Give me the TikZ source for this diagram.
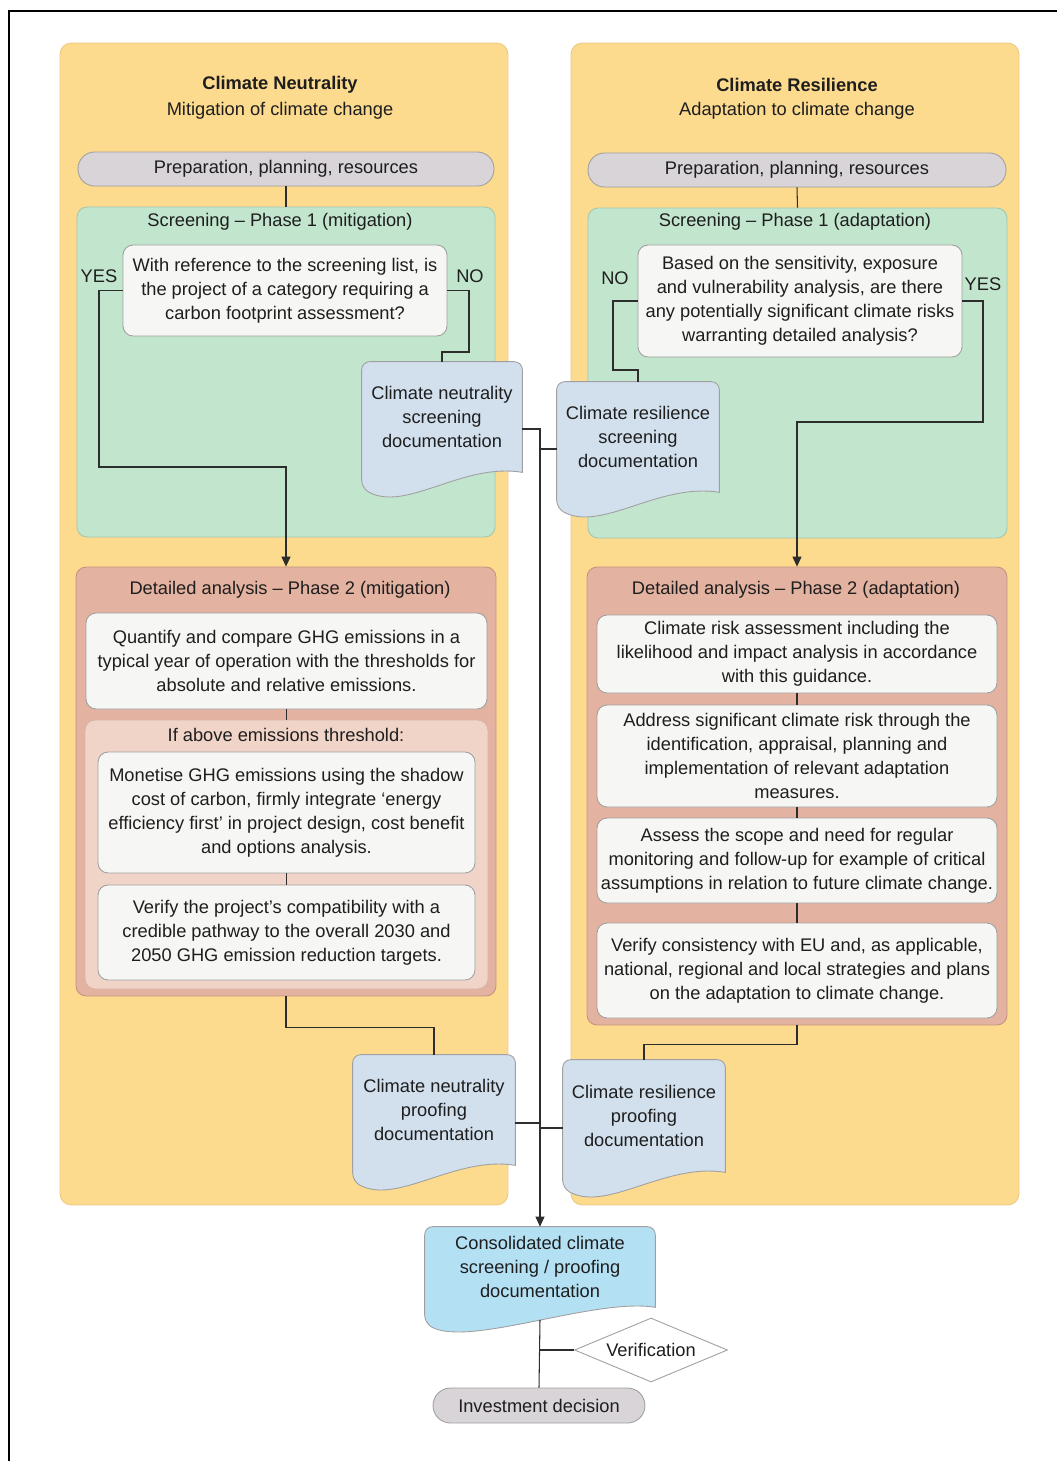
\documentclass[tikz,border=0pt]{standalone}
\usepackage{fontspec}
\setmainfont{Liberation Sans}
\usepackage{tikz}
\usetikzlibrary{arrows.meta,calc,shapes.geometric}

\definecolor{panel}{RGB}{252,218,142}
\definecolor{panelline}{RGB}{238,202,128}
\definecolor{screen}{RGB}{194,229,205}
\definecolor{screenline}{RGB}{160,200,176}
\definecolor{detail}{RGB}{228,178,160}
\definecolor{detailline}{RGB}{196,146,128}
\definecolor{above}{RGB}{241,212,200}
\definecolor{boxfill}{RGB}{246,246,244}
\definecolor{boxline}{RGB}{160,160,160}
\definecolor{prep}{RGB}{216,212,216}
\definecolor{docfill}{RGB}{210,224,238}
\definecolor{consfill}{RGB}{180,224,244}
\definecolor{linecol}{RGB}{45,45,45}
\definecolor{txt}{RGB}{30,30,30}

\pgfdeclarelayer{back}
\pgfdeclarelayer{mid}
\pgfsetlayers{back,mid,main}

\tikzset{
  every node/.style={font=\fontsize{10.4}{13.6}\selectfont, text=txt, inner sep=0pt},
  bigpanel/.style={draw=panelline, fill=panel, rounded corners=0.22cm, line width=0.5pt},
  screenpanel/.style={draw=screenline, fill=screen, rounded corners=0.2cm, line width=0.5pt},
  detailpanel/.style={draw=detailline, fill=detail, rounded corners=0.2cm, line width=0.5pt},
  abovepanel/.style={draw=detailline!70, fill=above, rounded corners=0.2cm, line width=0.5pt},
  prepbox/.style={draw=boxline, fill=prep, rounded corners=0.33cm, line width=0.5pt},
  textbox/.style={draw=boxline, fill=boxfill, rounded corners=0.2cm, line width=0.5pt, align=center},
  docbox/.style={align=center},
  docline/.style={draw=boxline, line width=0.5pt},
  link/.style={draw=linecol, line width=0.6pt},
  arrowlink/.style={link, -{Triangle[length=0.2cm,width=0.18cm]}},
}

% document symbol behind a named node
\newcommand{\docshape}[2]{%
  \begin{pgfonlayer}{mid}
    \filldraw[docline, fill=#2]
      (#1.south east) [rounded corners=0.16cm] -- (#1.north east) -- (#1.north west)
      -- ($(#1.south west)+(0,16)$) [sharp corners]
      .. controls +(45,24) and +(-60,-10) .. (#1.south east) -- cycle;
  \end{pgfonlayer}}

\begin{document}
\begin{tikzpicture}[x=0.02cm, y=-0.02cm]

  \useasboundingbox (0,0) rectangle (1057,1461);

  % Frame
  \draw[line width=1pt] (9,1461) -- (9,11) -- (1057,11);

  % Panels
  \begin{pgfonlayer}{back}
    \node[bigpanel, minimum width=8.96cm, minimum height=23.24cm] (colL) at (284,624) {};
    \node[bigpanel, minimum width=8.96cm, minimum height=23.24cm] (colR) at (795,624) {};
    \node[screenpanel, minimum width=8.36cm, minimum height=6.6cm] (scrL) at (286,372) {};
    \node[screenpanel, minimum width=8.38cm, minimum height=6.6cm] (scrR) at (797.5,373) {};
    \node[detailpanel, minimum width=8.4cm, minimum height=8.58cm] (daL) at (286,781.5) {};
    \node[detailpanel, minimum width=8.4cm, minimum height=9.16cm] (daR) at (797,796) {};
    \node[abovepanel, minimum width=8.06cm, minimum height=5.38cm] (aboveL) at (286.5,854.5) {};
  \end{pgfonlayer}

  % Titles
  \node[font=\fontsize{10.4}{13.6}\selectfont\bfseries] (tnL) at (280,85) {Climate Neutrality};
  \node (snL) at (280,111) {Mitigation of climate change};
  \node[font=\fontsize{10.4}{13.6}\selectfont\bfseries] (tnR) at (797,85) {Climate Resilience};
  \node (snR) at (797,111) {Adaptation to climate change};
  \node (scrtL) at (280,222) {Screening – Phase 1 (mitigation)};
  \node (scrtR) at (795,222) {Screening – Phase 1 (adaptation)};
  \node (datL) at (290,590) {Detailed analysis – Phase 2 (mitigation)};
  \node (datR) at (796,590) {Detailed analysis – Phase 2 (adaptation)};
  \node (abovet) at (286,735) {If above emissions threshold:};

  % Boxes, left
  \node[prepbox, minimum width=8.32cm, minimum height=0.68cm] (prepL) at (286,169) {Preparation, planning, resources};
  \node[textbox, minimum width=6.48cm, minimum height=1.82cm] (qL) at (285,290.5)
    {With reference to the screening list, is\\the project of a category requiring a\\carbon footprint assessment?};
  \node[docbox, minimum width=3.2cm, minimum height=2.2cm] (sdocL) at (442,417)
    {Climate neutrality\\screening\\documentation};
  \node[textbox, minimum width=8.02cm, minimum height=1.92cm] (lq) at (286.5,661)
    {Quantify and compare GHG emissions in a\\typical year of operation with the thresholds for\\absolute and relative emissions.};
  \node[textbox, minimum width=7.54cm, minimum height=2.42cm] (lmon) at (286.5,812.5)
    {Monetise GHG emissions using the shadow\\cost of carbon, firmly integrate ‘energy\\efficiency first’ in project design, cost benefit\\and options analysis.};
  \node[textbox, minimum width=7.54cm, minimum height=1.9cm] (lver) at (286.5,932.5)
    {Verify the project's compatibility with a\\credible pathway to the overall 2030 and\\2050 GHG emission reduction targets.};
  \node[docbox, minimum width=3.24cm, minimum height=2.2cm] (pdocL) at (434,1110)
    {Climate neutrality\\proofing\\documentation};

  % Boxes, right
  \node[prepbox, minimum width=8.36cm, minimum height=0.68cm] (prepR) at (797,170) {Preparation, planning, resources};
  \node[textbox, minimum width=6.48cm, minimum height=2.24cm] (qR) at (800,301)
    {Based on the sensitivity, exposure\\and vulnerability analysis, are there\\any potentially significant climate risks\\warranting detailed analysis?};
  \node[docbox, minimum width=3.24cm, minimum height=2.2cm] (sdocR) at (638,437)
    {Climate resilience\\screening\\documentation};
  \node[textbox, minimum width=8cm, minimum height=1.56cm] (ra) at (797,654)
    {Climate risk assessment including the\\likelihood and impact analysis in accordance\\with this guidance.};
  \node[textbox, minimum width=8cm, minimum height=2.04cm] (rb) at (797,756)
    {Address significant climate risk through the\\identification, appraisal, planning and\\implementation of relevant adaptation\\measures.};
  \node[textbox, minimum width=8cm, minimum height=1.7cm] (rc) at (797,860.5)
    {Assess the scope and need for regular\\monitoring and follow-up for example of critical\\assumptions in relation to future climate change.};
  \node[textbox, minimum width=8cm, minimum height=1.9cm] (rd) at (797,970.5)
    {Verify consistency with EU and, as applicable,\\national, regional and local strategies and plans\\on the adaptation to climate change.};
  \node[docbox, minimum width=3.24cm, minimum height=2.24cm] (pdocR) at (644,1116)
    {Climate resilience\\proofing\\documentation};

  % Bottom
  \node[docbox, minimum width=4.6cm, minimum height=1.6cm] (cons) at (540,1267)
    {Consolidated climate\\screening / proofing\\documentation};
  \node[diamond, draw=boxline, fill=white, line width=0.5pt, aspect=2.4,
        minimum width=3.06cm, minimum height=1.28cm] (verif) at (651,1350) {Verification};
  \node[prepbox, minimum width=4.24cm, minimum height=0.7cm, rounded corners=0.35cm] (inv) at (539,1405.5)
    {Investment decision};

  \docshape{sdocL}{docfill}
  \docshape{sdocR}{docfill}
  \docshape{pdocL}{docfill}
  \docshape{pdocR}{docfill}
  \docshape{cons}{consfill}

  % YES / NO
  \node (yesLt) at (99,276) {YES};
  \node (noLt) at (470,276) {NO};
  \node (noRt) at (615,278) {NO};
  \node (yesRt) at (983,284) {YES};

  % Bends
  \coordinate (yesL) at (99,467);
  \coordinate (noL) at (469,352);
  \coordinate (noR) at (613,370);
  \coordinate (yesR) at (983,422);
  \coordinate (jsL) at ($(sdocL.east)+(0,12)$);
  \coordinate (jsR) at ($(sdocR.west)+(0,12)$);
  \coordinate (jpL) at ($(pdocL.east)+(0,13)$);
  \coordinate (jpR) at ($(pdocR.west)+(0,12)$);

  % Connectors
  \draw[link] (prepL.south) -- (scrL.north);
  \draw[link] (prepR.south) -- (scrR.north);
  \draw[arrowlink] (qL.west) -| (yesL) -| (daL.north);
  \draw[link] (qL.east) -| (noL) -| (sdocL.north);
  \draw[link] (qR.west) -| (noR) -| (sdocR.north);
  \draw[arrowlink] (qR.east) -| (yesR) -| (daR.north);
  \draw[link] (lq.south) -- (aboveL.north);
  \draw[link] (lmon.south) -- (lver.north);
  \draw[link] (ra.south) -- (rb.north);
  \draw[link] (rb.south) -- (rc.north);
  \draw[link] (rc.south) -- (rd.north);
  \draw[link] (daL.south) -- ++(0,31) -| (pdocL.north);
  \draw[link] (daR.south) -- ++(0,19) -| (pdocR.north);
  \draw[arrowlink] (jsL) -| (cons.north);
  \draw[link] (jsR) -- (jsR -| cons.north);
  \draw[link] (jpL) -- (jpL -| cons.north);
  \draw[link] (jpR) -- (jpR -| cons.north);
  \draw[link] ([yshift=-0.25cm]cons.south) -- (inv.north);
  \draw[link] (verif.west) -- (verif.west -| inv.north);

\end{tikzpicture}
\end{document}
